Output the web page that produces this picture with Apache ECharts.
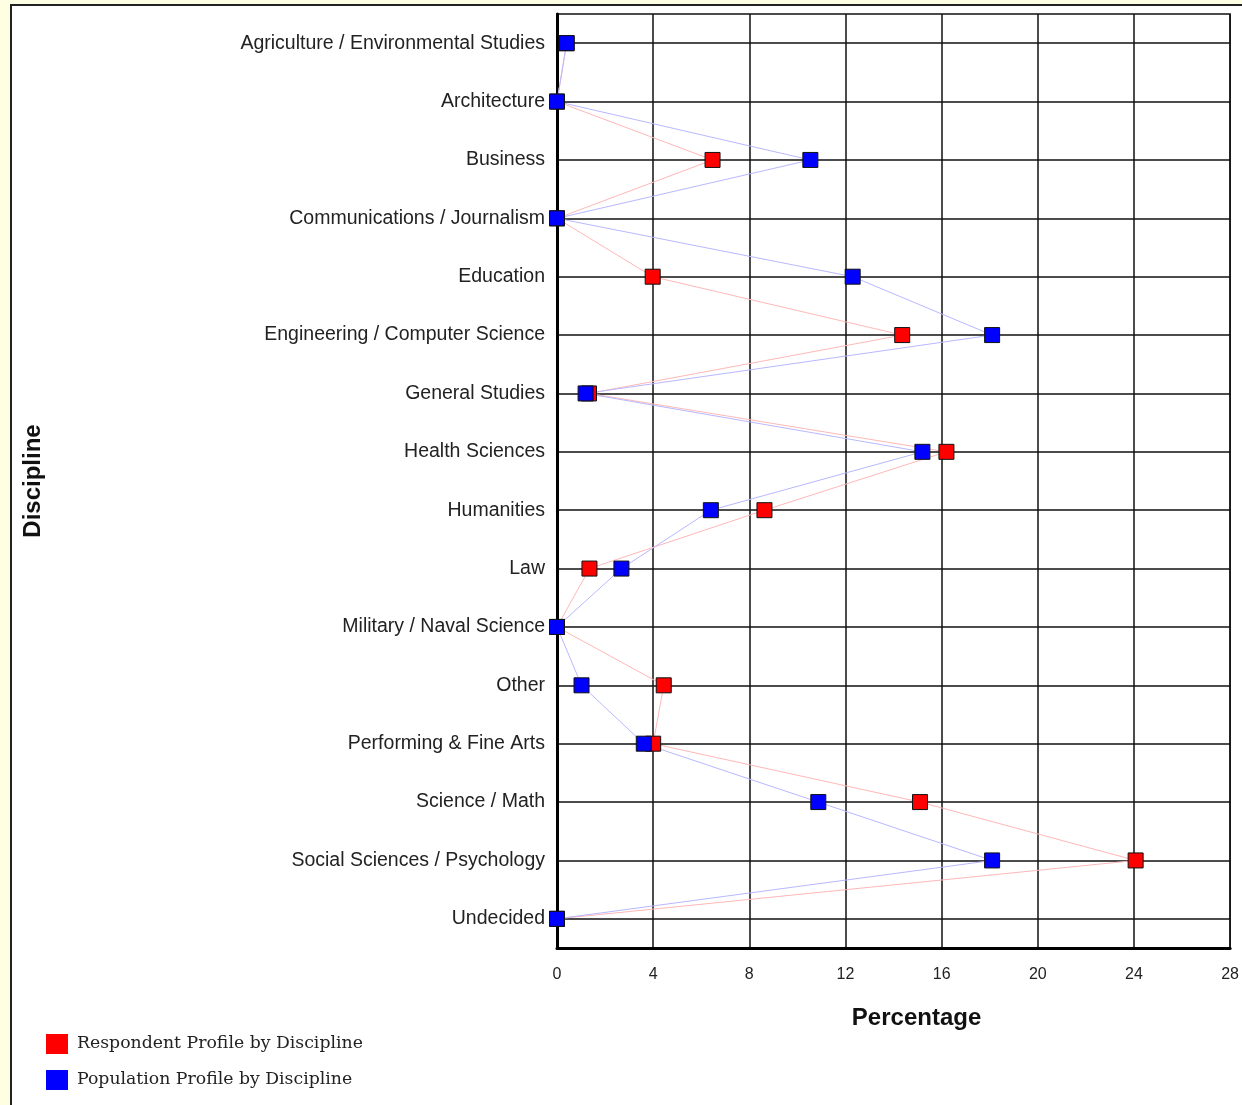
<!DOCTYPE html>
<html><head><meta charset="utf-8">
<script src="https://cdn.jsdelivr.net/npm/echarts@6/dist/echarts.min.js"></script>
<style>html,body{margin:0;padding:0;background:#FEFEE2;}#c{width:1242px;height:1105px;}</style>
</head><body><div id="c"></div>
<script>
const categories = [
  'Agriculture / Environmental Studies','Architecture','Business','Communications / Journalism',
  'Education','Engineering / Computer Science','General Studies','Health Sciences','Humanities',
  'Law','Military / Naval Science','Other','Performing & Fine Arts','Science / Math',
  'Social Sciences / Psychology','Undecided'
];
const respondent = [0.4, 0, 6.47, 0, 3.98, 14.36, 1.33, 16.2, 8.63, 1.35, 0, 4.44, 4.0, 15.1, 24.07, 0];
const population = [0.4, 0, 10.54, 0, 12.3, 18.1, 1.19, 15.2, 6.4, 2.68, 0, 1.02, 3.61, 10.87, 18.1, 0];
const xTicks = [0, 4, 8, 12, 16, 20, 24, 28];
const seriesNames = ['Respondent Profile by Discipline', 'Population Profile by Discipline'];

const chart = echarts.init(document.getElementById('c'), null, {renderer: 'canvas'});
chart.setOption({
  backgroundColor: '#FEFEE2',
  animation: false,
  graphic: [{
    type: 'rect', left: 10, top: 4, z: -10,
    shape: {width: 1240, height: 1110},
    style: {fill: '#ffffff', stroke: '#222', lineWidth: 2}
  }],
  grid: {left: 557, right: 10, top: 14, bottom: 157, show: true, borderColor: '#111', borderWidth: 1.5, backgroundColor: 'transparent'},
  legend: {
    orient: 'vertical', left: 41, top: 1029, itemWidth: 22, itemHeight: 20, itemGap: 16,
    icon: 'rect',
    textStyle: {fontFamily: 'DejaVu Serif', fontSize: 17.3, color: '#222', padding: [0, 0, 0, 4]},
    data: seriesNames.map(n => ({name: n, itemStyle: {borderWidth: 0}}))
  },
  xAxis: {
    type: 'value', min: xTicks[0], max: xTicks[xTicks.length - 1], interval: 4,
    name: 'Percentage', nameLocation: 'middle', nameGap: 58,
    nameTextStyle: {fontFamily: 'Liberation Sans', fontWeight: 'bold', fontSize: 24, color: '#111', padding: [0, 0, 0, 46]},
    axisLine: {show: true, lineStyle: {color: '#000', width: 3}},
    axisTick: {show: false},
    axisLabel: {fontFamily: 'Liberation Sans', fontSize: 16, color: '#222', margin: 19},
    splitLine: {show: true, lineStyle: {color: '#111', width: 1.5}}
  },
  yAxis: {
    type: 'category', data: categories, inverse: true,
    name: 'Discipline', nameLocation: 'middle', nameGap: 512,
    nameTextStyle: {fontFamily: 'Liberation Sans', fontWeight: 'bold', fontSize: 24, color: '#111'},
    axisLine: {show: true, lineStyle: {color: '#000', width: 3}},
    axisTick: {show: false},
    axisLabel: {fontFamily: 'Liberation Sans', fontSize: 19.5, color: '#222', margin: 12, padding: [2, 0, 0, 0]},
    splitLine: {show: true, alignWithLabel: true, lineStyle: {color: '#111', width: 1.5}}
  },
  series: [
    {
      name: seriesNames[0], type: 'line', data: respondent,
      symbol: 'rect', symbolSize: 15,
      lineStyle: {color: '#FFB8B8', width: 1},
      itemStyle: {color: '#FF0000', borderColor: '#111', borderWidth: 1}
    },
    {
      name: seriesNames[1], type: 'line', data: population,
      symbol: 'rect', symbolSize: 15,
      lineStyle: {color: '#B8B8FF', width: 1},
      itemStyle: {color: '#0000FF', borderColor: '#111', borderWidth: 1}
    }
  ]
});
</script></body></html>
